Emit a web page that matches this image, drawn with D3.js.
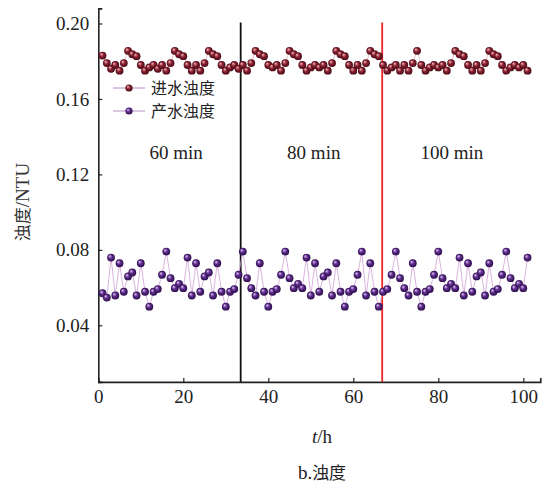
<!DOCTYPE html>
<html>
<head>
<meta charset="utf-8">
<script src="https://cdn.jsdelivr.net/npm/d3@7"></script>
<style>
  html, body { margin: 0; padding: 0; background: #fff; }
  svg { display: block; }
</style>
</head>
<body>
<svg id="chart" width="549" height="485"></svg>
<script>
// ---------- data ----------
const hours = d3.range(1, 102); // 1 .. 101 h
const influent = [
  0.183, 0.179, 0.176, 0.178, 0.175, 0.179, 0.1855, 0.1837, 0.1827, 0.178,
  0.175, 0.1767, 0.178, 0.176, 0.178, 0.175, 0.179, 0.1855, 0.1837, 0.1827,
  0.178, 0.175, 0.178, 0.175, 0.179, 0.1855, 0.1837, 0.1827, 0.178, 0.175,
  0.1767, 0.178, 0.176, 0.178, 0.175, 0.179, 0.1855, 0.1837, 0.1827, 0.178,
  0.1767, 0.178, 0.175, 0.179, 0.1855, 0.1837, 0.1827, 0.178, 0.175, 0.1767,
  0.178, 0.1767, 0.178, 0.175, 0.179, 0.1855, 0.1837, 0.1827, 0.178, 0.175,
  0.178, 0.175, 0.179, 0.1855, 0.1837, 0.1827, 0.178, 0.175, 0.1767, 0.178,
  0.175, 0.178, 0.175, 0.179, 0.1855, 0.178, 0.175, 0.1767, 0.178, 0.1767,
  0.178, 0.175, 0.179, 0.1855, 0.1837, 0.1827, 0.178, 0.175, 0.178, 0.175,
  0.179, 0.1855, 0.1837, 0.1827, 0.178, 0.175, 0.1767, 0.178, 0.1767, 0.178,
  0.175
];
const effluent = [
  0.057, 0.0547, 0.0759, 0.0558, 0.0729, 0.0578, 0.0659, 0.068, 0.0558, 0.0729,
  0.0578, 0.0499, 0.0578, 0.0592, 0.0668, 0.0791, 0.065, 0.0597, 0.062, 0.0597,
  0.0759, 0.0558, 0.0729, 0.0578, 0.0659, 0.068, 0.0558, 0.0729, 0.0578, 0.0499,
  0.0578, 0.0592, 0.0668, 0.0791, 0.065, 0.0597, 0.0558, 0.0729, 0.0578, 0.0499,
  0.0578, 0.0592, 0.0668, 0.0791, 0.065, 0.0597, 0.062, 0.0597, 0.0759, 0.0558,
  0.0729, 0.0578, 0.0659, 0.068, 0.0558, 0.0729, 0.0578, 0.0499, 0.0578, 0.0592,
  0.0668, 0.0791, 0.0558, 0.0729, 0.0578, 0.0499, 0.0578, 0.0592, 0.0668, 0.0791,
  0.065, 0.0597, 0.0558, 0.0729, 0.0578, 0.0499, 0.0578, 0.0592, 0.0668, 0.0791,
  0.065, 0.0597, 0.062, 0.0597, 0.0759, 0.0558, 0.0729, 0.0578, 0.0659, 0.068,
  0.0558, 0.0729, 0.0578, 0.0592, 0.0668, 0.0791, 0.065, 0.0597, 0.062, 0.0597,
  0.0759
];
const seriesNames = ["进水浊度", "产水浊度"];
const phaseBoundaries = [33.5, 66.8];
const phaseLabels = ["60 min", "80 min", "100 min"];
const phaseLabelAt = [18.3, 50.7, 83.2];
const xTicks = [0, 20, 40, 60, 80, 100];
const yTicks = [0.04, 0.08, 0.12, 0.16, 0.20];
const xTitleVar = "t", xTitleUnit = "/h";
const yTitleCN = "浊度", yTitleUnit = "/NTU";
const caption = "b.浊度";

// ---------- layout ----------
const svg = d3.select("#chart");
const x = d3.scaleLinear().domain([0, 104]).range([98.3, 540.3]);
const y = d3.scaleLinear().domain([0.01, 0.208]).range([381.9, 8.4]);
const serif = "'Liberation Serif', 'Times New Roman', 'DejaVu Serif', serif";
const cjk = "'Noto Sans CJK SC', sans-serif";

// gradients for sphere markers
const defs = svg.append("defs");
function sphere(id, light, mid, dark) {
  const g = defs.append("radialGradient").attr("id", id)
    .attr("cx", "50%").attr("cy", "50%").attr("r", "55%")
    .attr("fx", "32%").attr("fy", "30%");
  g.append("stop").attr("offset", "0%").attr("stop-color", light);
  g.append("stop").attr("offset", "45%").attr("stop-color", mid);
  g.append("stop").attr("offset", "100%").attr("stop-color", dark);
}
sphere("gRed", "#f3c4c4", "#8e2233", "#3d0610");
sphere("gPur", "#e2cdf3", "#5e2c8e", "#250a40");

const series = [
  { name: seriesNames[0], values: influent, fill: "url(#gRed)", line: "#e0b3bd" },
  { name: seriesNames[1], values: effluent, fill: "url(#gPur)", line: "#d1a0d6" }
];

// axes
const xAxis = d3.axisBottom(x).tickValues(xTicks).tickSize(-4).tickPadding(8)
  .tickFormat(d3.format("d"));
const gx = svg.append("g").attr("transform", `translate(0,${y.range()[0]})`).call(xAxis);
gx.attr("font-family", null);
gx.select(".domain").attr("stroke", "#222").attr("stroke-width", 1.6);
gx.selectAll(".tick line").attr("stroke", "#222").attr("stroke-width", 1.2);
gx.selectAll(".tick text").style("font-family", serif).style("font-size", "19px").attr("fill", "#222");

const yAxis = d3.axisLeft(y).tickValues(yTicks).tickSize(-4).tickPadding(9)
  .tickFormat(d3.format(".2f"));
const gy = svg.append("g").attr("transform", `translate(${x.range()[0]},0)`).call(yAxis);
gy.attr("font-family", null);
gy.select(".domain").attr("stroke", "#222").attr("stroke-width", 1.6);
gy.selectAll(".tick line").attr("stroke", "#222").attr("stroke-width", 1.2);
gy.selectAll(".tick text").style("font-family", serif).style("font-size", "19px").attr("fill", "#222");

// phase boundary lines
svg.append("g").selectAll("line").data(phaseBoundaries).join("line")
  .attr("x1", d => x(d)).attr("x2", d => x(d))
  .attr("y1", y(0.2) - 1).attr("y2", y.range()[0])
  .attr("stroke", (d, i) => i === 0 ? "#111" : "#e8232a")
  .attr("stroke-width", 1.8);

// phase labels
svg.append("g").selectAll("text").data(phaseLabels).join("text")
  .attr("x", (d, i) => x(phaseLabelAt[i]))
  .attr("y", y(0.1313) + 6)
  .attr("text-anchor", "middle")
  .style("font-family", serif).style("font-size", "19px").attr("fill", "#222")
  .text(d => d);

// series
const lineGen = d3.line().x((d, i) => x(hours[i])).y(d => y(d));
series.forEach(s => {
  svg.append("path").datum(s.values)
    .attr("d", lineGen).attr("fill", "none")
    .attr("stroke", s.line).attr("stroke-width", 0.8);
  svg.append("g").selectAll("circle").data(s.values).join("circle")
    .attr("cx", (d, i) => x(hours[i])).attr("cy", d => y(d))
    .attr("r", 3.9).attr("fill", s.fill);
});

// legend
const legend = svg.append("g");
series.forEach((s, i) => {
  const ly = 88 + i * 23;
  legend.append("line").attr("x1", 113).attr("x2", 145).attr("y1", ly).attr("y2", ly)
    .attr("stroke", "#b88ec6").attr("stroke-width", 1);
  legend.append("circle").attr("cx", 129).attr("cy", ly).attr("r", 3.6).attr("fill", s.fill);
  legend.append("text").attr("x", 151).attr("y", ly + 6)
    .style("font-family", cjk).style("font-size", "16px").attr("fill", "#222")
    .text(s.name);
});

// y title
const yt = svg.append("text")
  .attr("transform", "translate(29,202) rotate(-90)")
  .attr("text-anchor", "middle").attr("fill", "#333");
yt.append("tspan").style("font-family", cjk).style("font-size", "17px").text(yTitleCN);
yt.append("tspan").style("font-family", serif).style("font-size", "19px").text(yTitleUnit);

// x title
const xt = svg.append("text").attr("x", 322).attr("y", 443)
  .attr("text-anchor", "middle").attr("fill", "#222")
  .style("font-family", serif).style("font-size", "19px");
xt.append("tspan").style("font-style", "italic").text(xTitleVar);
xt.append("tspan").text(xTitleUnit);

// caption
const cap = svg.append("text").attr("x", 322).attr("y", 479)
  .attr("text-anchor", "middle").attr("fill", "#222");
cap.append("tspan").style("font-family", serif).style("font-size", "19px").text(caption.slice(0, 2));
cap.append("tspan").style("font-family", cjk).style("font-size", "17px").text(caption.slice(2));
</script>
</body>
</html>
